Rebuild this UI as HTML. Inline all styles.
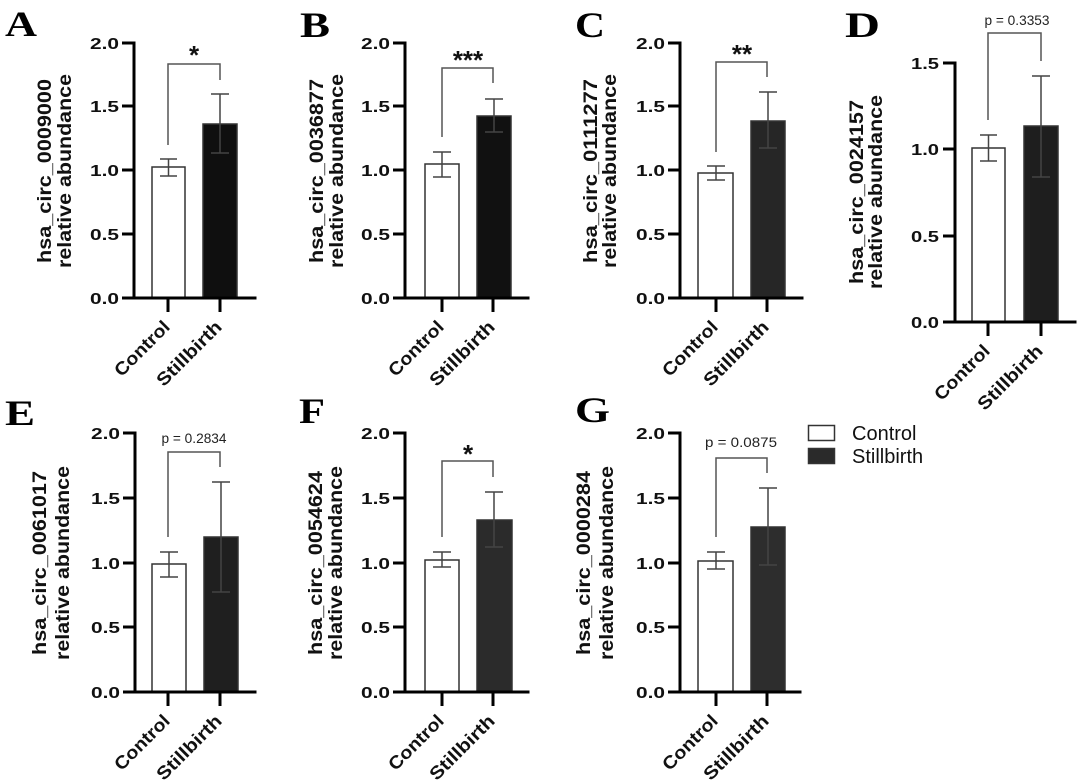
<!DOCTYPE html>
<html><head><meta charset="utf-8"><style>
html,body{margin:0;padding:0;background:#fff;}
svg{display:block;}
.ax{stroke:#000;stroke-width:3;fill:none;stroke-linecap:square;}
.tk{stroke:#000;stroke-width:3;}
.bar{stroke:#333;stroke-width:1.5;}
.eb{stroke:#444;stroke-width:1.5;fill:none;}
.br{stroke:#555;stroke-width:1.5;fill:none;}
.tl{font-family:"Liberation Sans",Arial,sans-serif;font-weight:bold;font-size:16px;fill:#111;}
.yl{font-family:"Liberation Sans",Arial,sans-serif;font-weight:bold;font-size:19px;fill:#111;}
.xl{font-family:"Liberation Sans",Arial,sans-serif;font-weight:bold;font-size:18px;fill:#111;}
.pv{font-family:"Liberation Sans",Arial,sans-serif;font-size:13.5px;fill:#222;}
.st{font-family:"Liberation Sans",Arial,sans-serif;font-weight:bold;font-size:26px;fill:#111;}
.lt{font-family:"Liberation Serif","Times New Roman",serif;font-weight:bold;font-size:36px;fill:#000;}
.lg{font-family:"Liberation Sans",Arial,sans-serif;font-size:20px;fill:#111;}
</style></head><body>
<svg width="1080" height="780" viewBox="0 0 1080 780" xmlns="http://www.w3.org/2000/svg">

<!-- ===== Panel A ===== -->
<text class="lt" x="5" y="36" textLength="32" lengthAdjust="spacingAndGlyphs">A</text>
<text class="yl" transform="translate(51,171) rotate(-90)" text-anchor="middle" textLength="184" lengthAdjust="spacingAndGlyphs">hsa_circ_0009000</text>
<text class="yl" transform="translate(71,171) rotate(-90)" text-anchor="middle" textLength="194" lengthAdjust="spacingAndGlyphs">relative abundance</text>
<rect class="bar" x="152" y="167" width="33" height="131" fill="#fff"/>
<rect class="bar" x="203" y="124" width="34" height="174" fill="#0f0f0f"/>
<path class="eb" d="M168.5 159V176M160 159H177M160 176H177"/>
<path class="eb" d="M220 94V153M211 94H229M211 153H229"/>
<path class="br" d="M168 145V64H220V80"/>
<text class="st" x="194" y="64" text-anchor="middle">*</text>
<path class="ax" d="M134 43V298H255"/>
<path class="tk" d="M122 43H134M122 106H134M122 170H134M122 234H134M122 298H134M168 298V312M220 298V312"/>
<g class="tl" text-anchor="end">
<text x="119" y="49" textLength="29" lengthAdjust="spacingAndGlyphs">2.0</text>
<text x="119" y="112" textLength="29" lengthAdjust="spacingAndGlyphs">1.5</text>
<text x="119" y="176" textLength="29" lengthAdjust="spacingAndGlyphs">1.0</text>
<text x="119" y="240" textLength="29" lengthAdjust="spacingAndGlyphs">0.5</text>
<text x="119" y="304" textLength="29" lengthAdjust="spacingAndGlyphs">0.0</text>
</g>
<text class="xl" transform="translate(171,328) rotate(-45)" text-anchor="end" textLength="70" lengthAdjust="spacingAndGlyphs">Control</text>
<text class="xl" transform="translate(223,328) rotate(-45)" text-anchor="end" textLength="84" lengthAdjust="spacingAndGlyphs">Stillbirth</text>

<!-- ===== Panel B ===== -->
<text class="lt" x="300" y="37" textLength="30" lengthAdjust="spacingAndGlyphs">B</text>
<text class="yl" transform="translate(323,171) rotate(-90)" text-anchor="middle" textLength="184" lengthAdjust="spacingAndGlyphs">hsa_circ_0036877</text>
<text class="yl" transform="translate(343,171) rotate(-90)" text-anchor="middle" textLength="194" lengthAdjust="spacingAndGlyphs">relative abundance</text>
<rect class="bar" x="425" y="164" width="34" height="134" fill="#fff"/>
<rect class="bar" x="477" y="116" width="34" height="182" fill="#111"/>
<path class="eb" d="M442 152V177M433 152H451M433 177H451"/>
<path class="eb" d="M494 99V132M485 99H503M485 132H503"/>
<path class="br" d="M442 137V68H493V83"/>
<text class="st" x="468" y="69" text-anchor="middle">***</text>
<path class="ax" d="M405 43V298H528"/>
<path class="tk" d="M393 43H405M393 106H405M393 170H405M393 234H405M393 298H405M442 298V312M493 298V312"/>
<g class="tl" text-anchor="end">
<text x="390" y="49" textLength="29" lengthAdjust="spacingAndGlyphs">2.0</text>
<text x="390" y="112" textLength="29" lengthAdjust="spacingAndGlyphs">1.5</text>
<text x="390" y="176" textLength="29" lengthAdjust="spacingAndGlyphs">1.0</text>
<text x="390" y="240" textLength="29" lengthAdjust="spacingAndGlyphs">0.5</text>
<text x="390" y="304" textLength="29" lengthAdjust="spacingAndGlyphs">0.0</text>
</g>
<text class="xl" transform="translate(445,328) rotate(-45)" text-anchor="end" textLength="70" lengthAdjust="spacingAndGlyphs">Control</text>
<text class="xl" transform="translate(496,328) rotate(-45)" text-anchor="end" textLength="84" lengthAdjust="spacingAndGlyphs">Stillbirth</text>

<!-- ===== Panel C ===== -->
<text class="lt" x="575" y="37" textLength="30" lengthAdjust="spacingAndGlyphs">C</text>
<text class="yl" transform="translate(597,171) rotate(-90)" text-anchor="middle" textLength="184" lengthAdjust="spacingAndGlyphs">hsa_circ_0111277</text>
<text class="yl" transform="translate(616,171) rotate(-90)" text-anchor="middle" textLength="194" lengthAdjust="spacingAndGlyphs">relative abundance</text>
<rect class="bar" x="698" y="173" width="35" height="125" fill="#fff"/>
<rect class="bar" x="751" y="121" width="34" height="177" fill="#262626"/>
<path class="eb" d="M716 166V180M707 166H725M707 180H725"/>
<path class="eb" d="M768 92V148M759 92H777M759 148H777"/>
<path class="br" d="M716 152V62H767V77"/>
<text class="st" x="742" y="63" text-anchor="middle">**</text>
<path class="ax" d="M680 43V298H802"/>
<path class="tk" d="M668 43H680M668 106H680M668 170H680M668 234H680M668 298H680M716 298V312M767 298V312"/>
<g class="tl" text-anchor="end">
<text x="665" y="49" textLength="29" lengthAdjust="spacingAndGlyphs">2.0</text>
<text x="665" y="112" textLength="29" lengthAdjust="spacingAndGlyphs">1.5</text>
<text x="665" y="176" textLength="29" lengthAdjust="spacingAndGlyphs">1.0</text>
<text x="665" y="240" textLength="29" lengthAdjust="spacingAndGlyphs">0.5</text>
<text x="665" y="304" textLength="29" lengthAdjust="spacingAndGlyphs">0.0</text>
</g>
<text class="xl" transform="translate(719,328) rotate(-45)" text-anchor="end" textLength="70" lengthAdjust="spacingAndGlyphs">Control</text>
<text class="xl" transform="translate(770,328) rotate(-45)" text-anchor="end" textLength="84" lengthAdjust="spacingAndGlyphs">Stillbirth</text>

<!-- ===== Panel D ===== -->
<text class="lt" x="845" y="37" textLength="35" lengthAdjust="spacingAndGlyphs">D</text>
<text class="yl" transform="translate(863,192) rotate(-90)" text-anchor="middle" textLength="184" lengthAdjust="spacingAndGlyphs">hsa_circ_0024157</text>
<text class="yl" transform="translate(882,192) rotate(-90)" text-anchor="middle" textLength="194" lengthAdjust="spacingAndGlyphs">relative abundance</text>
<rect class="bar" x="972" y="148" width="33" height="174" fill="#fff"/>
<rect class="bar" x="1024" y="126" width="34" height="196" fill="#1e1e1e"/>
<path class="eb" d="M988.5 135V161M980 135H997M980 161H997"/>
<path class="eb" d="M1041 76V177M1032 76H1050M1032 177H1050"/>
<path class="br" d="M988 120V33H1041V61"/>
<text class="pv" x="1017" y="25" text-anchor="middle" textLength="65" lengthAdjust="spacingAndGlyphs">p = 0.3353</text>
<path class="ax" d="M955 63V322H1075"/>
<path class="tk" d="M943 63H955M943 149H955M943 236H955M943 322H955M988 322V336M1041 322V336"/>
<g class="tl" text-anchor="end">
<text x="939" y="69" textLength="28" lengthAdjust="spacingAndGlyphs">1.5</text>
<text x="939" y="155" textLength="28" lengthAdjust="spacingAndGlyphs">1.0</text>
<text x="939" y="242" textLength="28" lengthAdjust="spacingAndGlyphs">0.5</text>
<text x="939" y="328" textLength="28" lengthAdjust="spacingAndGlyphs">0.0</text>
</g>
<text class="xl" transform="translate(991,352) rotate(-45)" text-anchor="end" textLength="70" lengthAdjust="spacingAndGlyphs">Control</text>
<text class="xl" transform="translate(1044,352) rotate(-45)" text-anchor="end" textLength="84" lengthAdjust="spacingAndGlyphs">Stillbirth</text>

<!-- ===== Panel E ===== -->
<text class="lt" x="5" y="425" textLength="30" lengthAdjust="spacingAndGlyphs">E</text>
<text class="yl" transform="translate(46,563) rotate(-90)" text-anchor="middle" textLength="184" lengthAdjust="spacingAndGlyphs">hsa_circ_0061017</text>
<text class="yl" transform="translate(69,563) rotate(-90)" text-anchor="middle" textLength="194" lengthAdjust="spacingAndGlyphs">relative abundance</text>
<rect class="bar" x="152" y="564" width="34" height="128" fill="#fff"/>
<rect class="bar" x="204" y="537" width="34" height="155" fill="#1f1f1f"/>
<path class="eb" d="M169 552V577M160 552H178M160 577H178"/>
<path class="eb" d="M221 482V592M212 482H230M212 592H230"/>
<path class="br" d="M168 537V452H220V467"/>
<text class="pv" x="194" y="443" text-anchor="middle" textLength="65" lengthAdjust="spacingAndGlyphs">p = 0.2834</text>
<path class="ax" d="M135 433V692H255"/>
<path class="tk" d="M123 433H135M123 498H135M123 563H135M123 627H135M123 692H135M168 692V706M220 692V706"/>
<g class="tl" text-anchor="end">
<text x="120" y="439" textLength="29" lengthAdjust="spacingAndGlyphs">2.0</text>
<text x="120" y="504" textLength="29" lengthAdjust="spacingAndGlyphs">1.5</text>
<text x="120" y="569" textLength="29" lengthAdjust="spacingAndGlyphs">1.0</text>
<text x="120" y="633" textLength="29" lengthAdjust="spacingAndGlyphs">0.5</text>
<text x="120" y="698" textLength="29" lengthAdjust="spacingAndGlyphs">0.0</text>
</g>
<text class="xl" transform="translate(171,722) rotate(-45)" text-anchor="end" textLength="70" lengthAdjust="spacingAndGlyphs">Control</text>
<text class="xl" transform="translate(223,722) rotate(-45)" text-anchor="end" textLength="84" lengthAdjust="spacingAndGlyphs">Stillbirth</text>

<!-- ===== Panel F ===== -->
<text class="lt" x="299" y="423" textLength="26" lengthAdjust="spacingAndGlyphs">F</text>
<text class="yl" transform="translate(322,563) rotate(-90)" text-anchor="middle" textLength="184" lengthAdjust="spacingAndGlyphs">hsa_circ_0054624</text>
<text class="yl" transform="translate(342,563) rotate(-90)" text-anchor="middle" textLength="194" lengthAdjust="spacingAndGlyphs">relative abundance</text>
<rect class="bar" x="425" y="560" width="34" height="132" fill="#fff"/>
<rect class="bar" x="477" y="520" width="35" height="172" fill="#2b2b2b"/>
<path class="eb" d="M442 552V567M433 552H451M433 567H451"/>
<path class="eb" d="M494 492V547M485 492H503M485 547H503"/>
<path class="br" d="M442 537V461H493V477"/>
<text class="st" x="468" y="463" text-anchor="middle">*</text>
<path class="ax" d="M405 433V692H528"/>
<path class="tk" d="M393 433H405M393 498H405M393 563H405M393 627H405M393 692H405M442 692V706M493 692V706"/>
<g class="tl" text-anchor="end">
<text x="390" y="439" textLength="29" lengthAdjust="spacingAndGlyphs">2.0</text>
<text x="390" y="504" textLength="29" lengthAdjust="spacingAndGlyphs">1.5</text>
<text x="390" y="569" textLength="29" lengthAdjust="spacingAndGlyphs">1.0</text>
<text x="390" y="633" textLength="29" lengthAdjust="spacingAndGlyphs">0.5</text>
<text x="390" y="698" textLength="29" lengthAdjust="spacingAndGlyphs">0.0</text>
</g>
<text class="xl" transform="translate(445,722) rotate(-45)" text-anchor="end" textLength="70" lengthAdjust="spacingAndGlyphs">Control</text>
<text class="xl" transform="translate(496,722) rotate(-45)" text-anchor="end" textLength="84" lengthAdjust="spacingAndGlyphs">Stillbirth</text>

<!-- ===== Panel G ===== -->
<text class="lt" x="575" y="422" textLength="35" lengthAdjust="spacingAndGlyphs">G</text>
<text class="yl" transform="translate(590,563) rotate(-90)" text-anchor="middle" textLength="184" lengthAdjust="spacingAndGlyphs">hsa_circ_0000284</text>
<text class="yl" transform="translate(613,563) rotate(-90)" text-anchor="middle" textLength="194" lengthAdjust="spacingAndGlyphs">relative abundance</text>
<rect class="bar" x="698" y="561" width="35" height="131" fill="#fff"/>
<rect class="bar" x="751" y="527" width="34" height="165" fill="#2d2d2d"/>
<path class="eb" d="M716 552V569M707 552H725M707 569H725"/>
<path class="eb" d="M768 488V565M759 488H777M759 565H777"/>
<path class="br" d="M716 537V458H767V473"/>
<text class="pv" x="741" y="447" text-anchor="middle" textLength="72" lengthAdjust="spacingAndGlyphs">p = 0.0875</text>
<path class="ax" d="M680 433V692H800"/>
<path class="tk" d="M668 433H680M668 498H680M668 563H680M668 627H680M668 692H680M716 692V706M767 692V706"/>
<g class="tl" text-anchor="end">
<text x="665" y="439" textLength="29" lengthAdjust="spacingAndGlyphs">2.0</text>
<text x="665" y="504" textLength="29" lengthAdjust="spacingAndGlyphs">1.5</text>
<text x="665" y="569" textLength="29" lengthAdjust="spacingAndGlyphs">1.0</text>
<text x="665" y="633" textLength="29" lengthAdjust="spacingAndGlyphs">0.5</text>
<text x="665" y="698" textLength="29" lengthAdjust="spacingAndGlyphs">0.0</text>
</g>
<text class="xl" transform="translate(719,722) rotate(-45)" text-anchor="end" textLength="70" lengthAdjust="spacingAndGlyphs">Control</text>
<text class="xl" transform="translate(770,722) rotate(-45)" text-anchor="end" textLength="84" lengthAdjust="spacingAndGlyphs">Stillbirth</text>

<!-- ===== Legend ===== -->
<rect x="808.5" y="425.5" width="26" height="15" fill="#fff" stroke="#333" stroke-width="1.5"/>
<rect x="808.5" y="448.5" width="26" height="15" fill="#2a2a2a" stroke="#333" stroke-width="1.5"/>
<text class="lg" x="852" y="440">Control</text>
<text class="lg" x="852" y="463">Stillbirth</text>
</svg>
</body></html>
